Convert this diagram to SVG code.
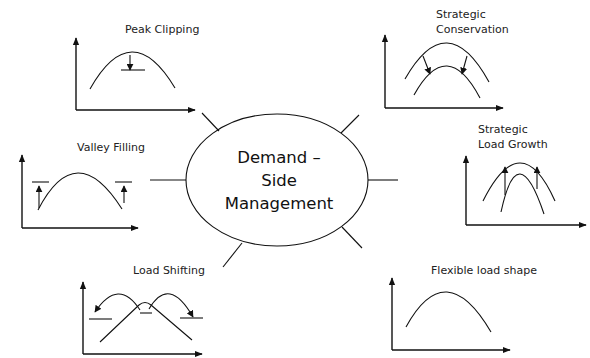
<svg xmlns="http://www.w3.org/2000/svg" width="590" height="358" viewBox="0 0 590 358">
<style>
.ln{fill:none;stroke:#111;stroke-width:1.1}
.ax{fill:none;stroke:#111;stroke-width:1.4}
.lbl{font-family:"DejaVu Sans","Liberation Sans",sans-serif;font-size:11px;fill:#222}
.ctr{font-family:"DejaVu Sans","Liberation Sans",sans-serif;font-size:16.5px;fill:#111;text-anchor:middle}
</style>
<defs>
<marker id="ah" viewBox="0 0 10 10" refX="9" refY="5" markerWidth="7" markerHeight="7" markerUnits="userSpaceOnUse" orient="auto">
<path d="M0,0 L10,5 L0,10 z" fill="#111"/>
</marker>
<marker id="axh" viewBox="0 0 10 10" refX="9" refY="5" markerWidth="8" markerHeight="8" markerUnits="userSpaceOnUse" orient="auto">
<path d="M0,1 L10,5 L0,9 z" fill="#111"/>
</marker>
</defs>
<rect width="590" height="358" fill="#fff"/>

<g id="connectors">
<line class="ln" x1="202" y1="113" x2="219" y2="131"/>
<line class="ln" x1="341" y1="133" x2="359" y2="115"/>
<line class="ln" x1="150" y1="180" x2="186" y2="180"/>
<line class="ln" x1="368" y1="180" x2="398" y2="180"/>
<line class="ln" x1="342" y1="227" x2="362" y2="248"/>
<line class="ln" x1="242" y1="243" x2="223" y2="267"/>
</g>

<g id="center">
<ellipse class="ln" cx="277" cy="180" rx="91" ry="66"/>
<text class="ctr" x="279" y="163">Demand –</text>
<text class="ctr" x="279" y="186">Side</text>
<text class="ctr" x="279" y="209">Management</text>
</g>

<g id="peak-clipping">
<text class="lbl" x="125" y="33">Peak Clipping</text>
<path class="ax" d="M76,110 L76,38" marker-end="url(#axh)"/>
<path class="ax" d="M76,110 L195,110" marker-end="url(#axh)"/>
<path class="ln" d="M90,89 Q131.5,15.5 175,88"/>
<path class="ln" d="M130,55 L130,70" marker-end="url(#ah)"/>
<line class="ln" x1="121" y1="70" x2="145" y2="70"/>
</g>

<g id="strategic-conservation">
<text class="lbl" x="436" y="18">Strategic</text>
<text class="lbl" x="436" y="33">Conservation</text>
<path class="ax" d="M385,108 L385,35" marker-end="url(#axh)"/>
<path class="ax" d="M385,108 L503,108" marker-end="url(#axh)"/>
<path class="ln" d="M405,79 Q447,5.5 489,82"/>
<path class="ln" d="M414,95 Q447,35.5 480,98"/>
<path class="ln" d="M423,56 L430,74" marker-end="url(#ah)"/>
<path class="ln" d="M467,56 L462,74" marker-end="url(#ah)"/>
</g>

<g id="valley-filling">
<text class="lbl" x="77" y="151">Valley Filling</text>
<path class="ax" d="M22,228 L22,155" marker-end="url(#axh)"/>
<path class="ax" d="M22,228 L138,228" marker-end="url(#axh)"/>
<path class="ln" d="M38,210 Q76,136.5 122,209"/>
<line class="ln" x1="32" y1="182" x2="49" y2="182"/>
<line class="ln" x1="115" y1="182" x2="132" y2="182"/>
<path class="ln" d="M39,208 L39,186" marker-end="url(#ah)"/>
<path class="ln" d="M124,203 L124,186" marker-end="url(#ah)"/>
</g>

<g id="strategic-load-growth">
<text class="lbl" x="478" y="133">Strategic</text>
<text class="lbl" x="478" y="148">Load Growth</text>
<path class="ax" d="M466,225 L466,156" marker-end="url(#axh)"/>
<path class="ax" d="M466,225 L586,225" marker-end="url(#axh)"/>
<path class="ln" d="M483,201 Q521,125 555,201"/>
<path class="ln" d="M501,212 Q517.5,135 544,214"/>
<path class="ln" d="M505,195 L505,167" marker-end="url(#ah)"/>
<path class="ln" d="M537,189 L537,167" marker-end="url(#ah)"/>
</g>

<g id="load-shifting">
<text class="lbl" x="133" y="274">Load Shifting</text>
<path class="ax" d="M83,354 L83,282" marker-end="url(#axh)"/>
<path class="ax" d="M83,354 L202,354" marker-end="url(#axh)"/>
<path class="ln" d="M100,342 L139,305 Q145,300 151,305 L192,340"/>
<line class="ln" x1="89" y1="319" x2="112" y2="319"/>
<line class="ln" x1="140" y1="313" x2="152" y2="313"/>
<line class="ln" x1="180" y1="318" x2="203" y2="318"/>
<path class="ln" d="M140,310 Q118.5,277 95,312" marker-end="url(#ah)"/>
<path class="ln" d="M149,309 Q169,275 193,317" marker-end="url(#ah)"/>
</g>

<g id="flexible-load-shape">
<text class="lbl" x="431" y="274">Flexible load shape</text>
<path class="ax" d="M392,350 L392,278" marker-end="url(#axh)"/>
<path class="ax" d="M392,350 L510,350" marker-end="url(#axh)"/>
<path class="ln" d="M406,327 Q445.5,254.5 491,332"/>
</g>
</svg>
